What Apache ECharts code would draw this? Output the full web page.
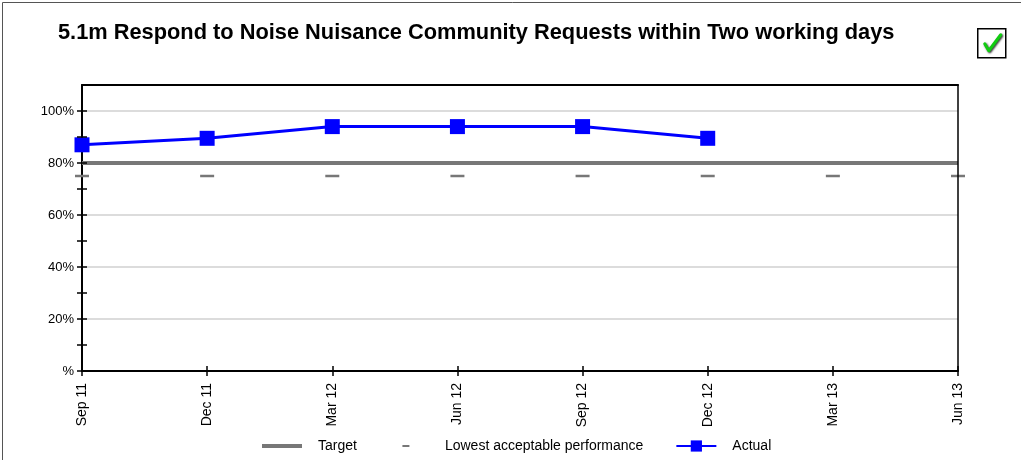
<!DOCTYPE html>
<html><head><meta charset="utf-8">
<script src="https://cdn.jsdelivr.net/npm/echarts@6/dist/echarts.min.js"></script>
<style>html,body{margin:0;padding:0;background:#fff}#c{width:1021px;height:460px}</style>
</head><body><div id="c"></div>
<script>
const titleText = '5.1m Respond to Noise Nuisance Community Requests within Two working days';
const categories = ['Sep 11','Dec 11','Mar 12','Jun 12','Sep 12','Dec 12','Mar 13','Jun 13'];
const actual = [87, 89.5, 94, 94, 94, 89.5, null, null];
const target = [80, 80, 80, 80, 80, 80, 80, 80];
const lowest = [75, 75, 75, 75, 75, 75, 75, 75];
const yMin = 0, yMax = 110, tickMax = 100;

const FONT = 'Liberation Sans, Arial, sans-serif';
const chart = echarts.init(document.getElementById('c'), null, {renderer:'canvas'});
const yLabel = v => (v % 20 === 0 && v <= 100) ? (v === 0 ? '%' : v + '%') : '';
const G = {left:82, right:63, top:85, bottom:89};
const tickGridTop = G.top + (460 - G.top - G.bottom) * (yMax - tickMax) / (yMax - yMin);
const baseX = {type:'category', data:categories, boundaryGap:false, gridIndex:0};
const baseY = {type:'value', min:yMin, max:yMax, gridIndex:0};
const noAxis = {axisLine:{show:false}, axisTick:{show:false}, axisLabel:{show:false}, splitLine:{show:false}};
chart.setOption({
  animation:false,
  textStyle:{fontFamily:FONT},
  title:{text:titleText, left:53, top:17, textStyle:{fontFamily:FONT, fontSize:21.8, fontWeight:'bold', color:'#000'}},
  grid:[Object.assign({containLabel:false}, G),
        {left:G.left, right:G.right, bottom:G.bottom, top:tickGridTop, containLabel:false}],
  legend:{top:434, left:257, itemWidth:40, itemHeight:14, itemGap:32,
    textStyle:{fontFamily:FONT, fontSize:14, color:'#000', padding:[0,0,0,11]},
    data:[
      {name:'Target', icon:'path://M0,0M40,14M0,5L40,5L40,9L0,9Z', itemStyle:{color:'#777', borderWidth:0}},
      {name:'Lowest acceptable performance', icon:'path://M0,0M40,14M13.5,6L20.5,6L20.5,8L13.5,8Z', itemStyle:{color:'#777', borderWidth:0}},
      {name:'Actual'}
    ]},
  xAxis:[
    Object.assign({}, baseX, {position:'bottom', axisLine:{lineStyle:{color:'#000', width:2}},
      axisTick:{show:true, length:5, lineStyle:{color:'#000', width:1.5}},
      axisLabel:{rotate:90, fontSize:14, color:'#000', margin:12, fontFamily:FONT}, splitLine:{show:false}}),
    Object.assign({}, baseX, {position:'bottom', axisLine:{show:false},
      axisTick:{show:true, inside:true, length:5, lineStyle:{color:'#000', width:1.5}},
      axisLabel:{show:false}, splitLine:{show:false}}),
    Object.assign({}, baseX, {position:'top', z:10, axisLine:{lineStyle:{color:'#000', width:2}},
      axisTick:{show:false}, axisLabel:{show:false}, splitLine:{show:false}}),
    Object.assign({}, baseX, noAxis, {gridIndex:1, position:'bottom'})
  ],
  yAxis:[
    Object.assign({}, baseY, {position:'left', interval:20, axisLine:{show:true, lineStyle:{color:'#000', width:2}},
      axisTick:{show:false},
      axisLabel:{formatter:yLabel, fontSize:13, color:'#000', margin:8, fontFamily:FONT},
      splitLine:{show:true, lineStyle:{color:'#dcdcdc', width:2}}}),
    {type:'value', gridIndex:1, min:yMin, max:tickMax, interval:10, position:'left', z:10, axisLine:{show:false},
      axisTick:{show:true, length:5, lineStyle:{color:'#000', width:1.5}}, axisLabel:{show:false}, splitLine:{show:false}},
    {type:'value', gridIndex:1, min:yMin, max:tickMax, interval:10, position:'left', z:10, axisLine:{show:false},
      axisTick:{show:true, inside:true, length:5, lineStyle:{color:'#000', width:1.5}}, axisLabel:{show:false}, splitLine:{show:false}},
    Object.assign({}, baseY, {position:'right', z:10, axisLine:{show:true, lineStyle:{color:'#000', width:1.5}},
      axisTick:{show:false}, axisLabel:{show:false}, splitLine:{show:false}})
  ],
  series:[
    {name:'Target', type:'line', data:target, xAxisIndex:0, yAxisIndex:0, symbol:'none', z:2,
      lineStyle:{color:'#777', width:4}, itemStyle:{color:'#777'}},
    {name:'Lowest acceptable performance', type:'line', data:lowest, xAxisIndex:0, yAxisIndex:0, z:3,
      symbol:'rect', symbolSize:[14,2.5], lineStyle:{width:0, opacity:0}, itemStyle:{color:'#777'}},
    {name:'Actual', type:'line', data:actual, xAxisIndex:0, yAxisIndex:0, z:4,
      symbol:'rect', symbolSize:15, lineStyle:{color:'#0000ff', width:3}, itemStyle:{color:'#0000ff'}}
  ],
  graphic:[
    {type:'rect', left:0, top:0, shape:{width:1020, height:459}, style:{fill:null, stroke:'#555', lineWidth:1}, silent:true},
    {type:'group', left:977, top:28, children:[
      {type:'rect', shape:{x:0, y:0, width:28, height:29}, style:{fill:'#fff', stroke:'#000', lineWidth:1.5}},
      {type:'polyline', shape:{points:[[7,15],[11,22],[23,6]]}, style:{fill:null, stroke:'#1c1', lineWidth:3, lineCap:'round', lineJoin:'round', shadowBlur:2, shadowColor:'#333', shadowOffsetX:1, shadowOffsetY:1}}
    ]}
  ]
});
</script></body></html>
